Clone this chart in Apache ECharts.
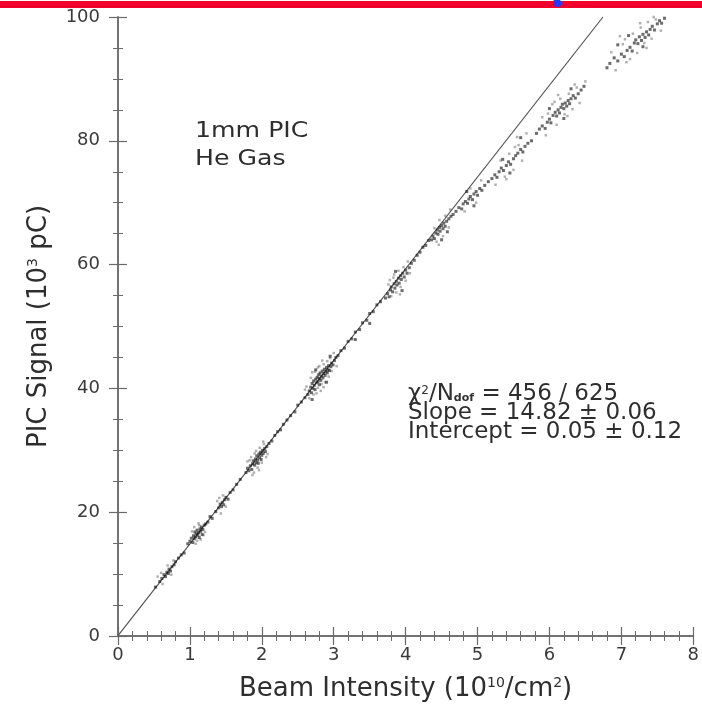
<!DOCTYPE html>
<html>
<head>
<meta charset="utf-8">
<script src="https://cdn.jsdelivr.net/npm/echarts@6/dist/echarts.min.js"></script>
<style>
  html, body { margin: 0; padding: 0; background: #fff; }
  #chart { width: 702px; height: 711px; }
</style>
</head>
<body>
<div id="chart"></div>
<script>
// Axis ranges and tick values
const xTicks = [0, 1, 2, 3, 4, 5, 6, 7, 8];
const yTicks = [0, 20, 40, 60, 80, 100];

// Linear fit result
const fitSlope = 14.82;
const fitIntercept = 0.05;

// Measured PIC signal vs beam intensity, grouped by spill cluster (core of each cluster)
const clusterA = [[0.52,7.9],[0.58,8.8],[0.61,9.3],[0.64,9.9],[0.66,9.6],[0.68,10.3],[0.7,10.1],[0.71,10.8],[0.73,10.5],[0.75,11.2],[0.78,11.5],[0.8,12.0],[0.84,12.6],[0.88,13.1],[0.92,13.4]];
const clusterB = [[0.97,14.9],[1.0,15.3],[1.02,15.8],[1.04,15.1],[1.05,16.2],[1.06,15.7],[1.07,16.8],[1.08,16.0],[1.09,16.5],[1.1,17.1],[1.11,16.3],[1.12,16.7],[1.13,15.9],[1.14,17.3],[1.15,16.9],[1.16,17.6],[1.17,16.4],[1.18,17.2],[1.2,17.9],[1.22,18.1],[1.25,18.4],[1.28,19.3],[1.31,19.0]];
const clusterC = [[1.36,20.1],[1.4,20.7],[1.42,21.3],[1.44,20.9],[1.45,21.6],[1.47,21.2],[1.48,22.0],[1.5,22.4],[1.53,22.1],[1.56,23.2],[1.6,23.6],[1.65,24.5],[1.7,25.3]];
const clusterD = [[1.78,26.4],[1.8,27.1],[1.82,26.7],[1.84,27.5],[1.86,26.9],[1.87,27.8],[1.88,28.3],[1.9,27.6],[1.91,28.6],[1.92,28.0],[1.93,29.1],[1.94,28.4],[1.95,27.9],[1.96,29.4],[1.97,28.8],[1.98,29.7],[1.99,28.5],[2.0,29.2],[2.01,30.0],[2.02,29.5],[2.04,30.3],[2.05,29.8],[2.07,30.6],[2.1,31.1],[2.14,31.5],[2.18,32.4],[2.22,33.0],[2.26,33.3],[2.3,34.2],[2.35,34.9],[2.4,35.6],[2.46,36.2],[2.5,37.3],[2.55,37.8],[2.6,38.5]];
const clusterE = [[2.64,39.0],[2.66,39.6],[2.68,40.2],[2.69,39.3],[2.7,40.8],[2.71,40.0],[2.72,41.2],[2.73,40.5],[2.74,39.8],[2.75,41.5],[2.76,40.9],[2.77,41.8],[2.78,41.1],[2.79,42.2],[2.8,40.6],[2.8,41.6],[2.81,42.5],[2.82,41.3],[2.83,42.0],[2.84,42.8],[2.85,41.7],[2.86,42.4],[2.87,43.1],[2.88,42.1],[2.89,42.7],[2.9,43.4],[2.91,42.5],[2.92,43.0],[2.93,43.7],[2.94,42.9],[2.96,43.5],[2.97,44.1],[2.99,43.8],[3.01,44.5],[3.03,45.0],[3.06,45.3],[2.75,43.0],[2.9,41.0],[2.7,38.2],[2.95,45.2]];
const clusterE2 = [[3.1,46.1],[3.15,46.5],[3.2,47.6],[3.25,48.0],[3.3,49.1],[3.36,49.5],[3.4,50.6],[3.46,51.0],[3.5,52.1],[3.55,52.4],[3.6,53.5],[3.65,54.0],[3.3,47.9],[3.5,50.5]];
const clusterF = [[3.72,54.6],[3.75,55.3],[3.77,54.8],[3.79,55.9],[3.8,56.4],[3.82,55.6],[3.84,56.9],[3.85,56.2],[3.87,57.3],[3.88,56.7],[3.9,57.8],[3.91,57.0],[3.93,58.2],[3.94,57.6],[3.96,58.6],[3.98,58.0],[4.0,59.1],[4.02,58.6],[4.05,59.5],[4.08,60.2],[3.95,55.8],[3.86,58.9],[4.12,60.7],[4.16,61.5],[4.2,62.0],[4.24,62.8],[4.28,63.1],[4.32,63.9]];
const clusterG = [[4.36,64.0],[4.38,64.6],[4.4,64.2],[4.42,65.1],[4.44,65.6],[4.45,64.9],[4.47,66.0],[4.48,65.4],[4.5,66.3],[4.52,65.8],[4.53,66.7],[4.55,66.2],[4.57,67.0],[4.6,67.4],[4.63,67.8],[4.66,68.1],[4.5,64.0],[4.58,65.3],[4.7,68.6],[4.74,69.2],[4.78,69.0],[4.8,69.8],[4.83,70.2],[4.86,69.9],[4.88,70.6],[4.9,71.0],[4.93,70.5],[4.95,71.4],[4.98,71.8],[5.0,71.2],[5.03,72.3],[5.06,72.0],[5.1,72.8],[4.85,71.8],[4.95,69.5]];
const clusterH = [[5.15,73.4],[5.2,73.9],[5.24,74.5],[5.27,74.1],[5.3,75.0],[5.33,75.6],[5.36,75.2],[5.4,76.0],[5.43,76.6],[5.46,76.2],[5.5,77.1],[5.53,77.6],[5.56,78.0],[5.6,78.6],[5.63,78.2],[5.66,79.1],[5.7,79.6],[5.75,80.0],[5.45,74.8],[5.35,77.0],[5.6,80.5]];
const clusterI = [[5.82,81.2],[5.86,81.9],[5.9,82.4],[5.94,82.0],[5.97,83.0],[6.0,83.5],[6.02,82.9],[6.05,84.1],[6.08,84.6],[6.1,84.0],[6.12,85.0],[6.14,84.5],[6.16,85.4],[6.18,85.9],[6.2,85.2],[6.22,86.1],[6.24,85.6],[6.26,86.5],[6.28,86.0],[6.3,86.8],[6.33,87.3],[6.36,86.9],[6.4,87.6],[6.44,88.2],[6.48,88.8],[6.2,83.6],[6.3,88.4],[6.0,85.2]];
const clusterJ = [[6.8,91.8],[6.84,92.5],[6.9,93.4],[6.95,92.9],[7.0,94.0],[7.04,93.6],[7.08,94.6],[7.12,95.1],[7.15,94.5],[7.18,95.8],[7.2,96.3],[7.23,95.7],[7.25,96.8],[7.28,96.2],[7.3,97.2],[7.33,96.7],[7.35,97.6],[7.38,97.1],[7.4,98.0],[7.43,98.5],[7.46,97.9],[7.5,98.9],[7.53,99.4],[7.56,99.0],[7.6,99.8],[7.1,97.0],[6.95,95.5],[7.3,95.2]];

// Outlying readings around each cluster
const spreadLow = [[0.55,9.6],[0.62,8.4],[0.69,11.4],[0.74,9.9],[0.77,12.2],[0.6,10.2],[1.03,16.9],[1.08,14.9],[1.12,18.2],[1.15,15.6],[1.19,16.3],[1.06,17.6],[1.13,17.9],[1.21,16.8],[1.1,15.4],[1.38,21.8],[1.43,19.8],[1.46,22.7],[1.5,20.9],[1.41,22.3]];
const spreadMid = [[1.83,28.4],[1.87,26.0],[1.9,29.5],[1.94,27.2],[1.97,30.4],[2.0,28.0],[2.03,31.0],[2.06,28.9],[1.92,29.9],[1.85,28.9],[2.08,29.4],[1.96,26.8],[1.89,26.4],[2.02,31.4],[1.8,28.2],[2.68,41.7],[2.72,39.0],[2.74,42.7],[2.78,40.1],[2.8,43.6],[2.83,40.7],[2.86,43.9],[2.88,41.0],[2.91,44.4],[2.93,41.9],[2.97,42.8],[3.0,45.7],[2.66,38.4],[2.62,40.3],[2.84,44.5],[2.76,39.2],[2.7,42.6],[2.78,43.4],[2.86,40.2],[2.95,44.9],[2.82,39.6],[3.04,43.6],[2.6,39.8],[3.76,56.8],[3.8,54.9],[3.83,57.9],[3.87,55.5],[3.9,59.0],[3.93,56.4],[3.97,59.6],[4.0,57.4],[3.78,57.5],[4.03,60.5],[3.84,58.4],[3.92,55.2],[4.06,58.6]];
const spreadHigh = [[4.4,65.9],[4.43,63.7],[4.47,67.2],[4.52,64.6],[4.55,67.9],[4.6,66.0],[4.62,68.9],[4.46,63.2],[4.82,68.6],[4.9,72.3],[4.98,70.0],[5.05,73.6],[5.25,72.9],[5.32,76.8],[5.38,74.2],[5.4,73.8],[5.44,77.9],[5.5,75.3],[5.55,80.6],[5.57,79.3],[5.62,76.8],[5.68,81.2],[5.52,79.0],[5.9,83.8],[5.95,80.9],[5.98,84.4],[6.04,85.9],[6.1,82.6],[6.12,87.4],[6.15,86.8],[6.21,84.3],[6.25,84.0],[6.27,87.6],[6.32,85.1],[6.35,89.1],[6.38,88.6],[6.42,86.1],[6.07,86.3],[6.5,89.6],[6.86,94.3],[6.92,91.4],[6.98,96.9],[7.02,95.6],[7.07,92.7],[7.12,93.2],[7.16,97.3],[7.22,94.2],[7.26,99.0],[7.27,98.3],[7.32,95.8],[7.35,95.0],[7.37,99.2],[7.42,96.5],[7.45,100.0],[7.48,99.6],[7.55,97.8],[7.05,96.4]];

const measuredCore = [].concat(clusterA, clusterB, clusterC, clusterD, clusterE, clusterE2, clusterF, clusterG, clusterH, clusterI, clusterJ);
const measuredSpread = [].concat(spreadLow, spreadMid, spreadHigh);

// Fit line endpoints from slope and intercept, clipped at the top of the y range
const yMax = yTicks[yTicks.length - 1];
const fitLine = [[0, fitIntercept], [(yMax - fitIntercept) / fitSlope, yMax]];

const FONT = 'DejaVu Sans';
const frameColor = '#6a6a6a';
const textColor = '#2e2e2e';

const chart = echarts.init(document.getElementById('chart'), null, { renderer: 'canvas' });

const frameLine = { show: true, lineStyle: { color: frameColor, width: 1.5 } };
const majorTick = { show: true, inside: true, length: 9, lineStyle: { color: frameColor, width: 1.2 } };
const minorTickStyle = (n) => ({ show: true, splitNumber: n, length: 5, lineStyle: { color: frameColor, width: 1 } });
const supStyle = { fontSize: 14, fontFamily: FONT, color: textColor, verticalAlign: 'top', padding: [0, 0, 12, 0] };

chart.setOption({
  animation: false,
  backgroundColor: '#ffffff',
  grid: { left: 118, right: 5, top: 17, bottom: 75, containLabel: false },
  xAxis: [
    {
      type: 'value', min: xTicks[0], max: xTicks[xTicks.length - 1], interval: 1,
      position: 'bottom',
      axisLine: frameLine, axisTick: majorTick, minorTick: minorTickStyle(5), splitLine: { show: false },
      axisLabel: { color: '#3a3a3a', fontFamily: FONT, fontSize: 18, margin: 10 },
      name: 'Beam Intensity (10{sup|10}/cm{sup|2})',
      nameLocation: 'middle', nameGap: 40,
      nameTextStyle: { color: textColor, fontFamily: FONT, fontSize: 26, rich: { sup: supStyle } }
    },
    {
      type: 'value', min: xTicks[0], max: xTicks[xTicks.length - 1], interval: 1,
      position: 'top',
      axisLine: frameLine, axisTick: majorTick, minorTick: minorTickStyle(5), splitLine: { show: false },
      axisLabel: { show: false }
    }
  ],
  yAxis: [
    {
      type: 'value', min: yTicks[0], max: yMax, interval: 20,
      position: 'left',
      axisLine: frameLine, axisTick: majorTick, minorTick: minorTickStyle(4), splitLine: { show: false },
      axisLabel: { color: '#3a3a3a', fontFamily: FONT, fontSize: 18, margin: 18 },
      name: 'PIC Signal (10{sup|3} pC)',
      nameLocation: 'middle', nameGap: 66, nameRotate: 90,
      nameTextStyle: { color: textColor, fontFamily: FONT, fontSize: 26, rich: { sup: supStyle } }
    },
    {
      type: 'value', min: yTicks[0], max: yMax, interval: 20,
      position: 'right',
      axisLine: frameLine, axisTick: majorTick, minorTick: minorTickStyle(4), splitLine: { show: false },
      axisLabel: { show: false }
    }
  ],
  series: [
    {
      type: 'line', data: fitLine, xAxisIndex: 0, yAxisIndex: 0,
      showSymbol: false, symbol: 'none', clip: true,
      lineStyle: { color: '#555', width: 1.2 }, z: 2
    },
    {
      type: 'scatter', data: measuredSpread, xAxisIndex: 0, yAxisIndex: 0,
      symbol: 'rect', symbolSize: 2.5,
      itemStyle: { color: 'rgba(40,40,40,0.45)' }, z: 3
    },
    {
      type: 'scatter', data: measuredCore, xAxisIndex: 0, yAxisIndex: 0,
      symbol: 'rect', symbolSize: 3,
      itemStyle: { color: 'rgba(10,10,10,0.75)' }, z: 4
    }
  ],
  graphic: [
    // header strip
    { type: 'rect', left: 0, top: 1, shape: { width: 702, height: 7 }, style: { fill: '#f2002c' }, z: 10 },
    { type: 'circle', shape: { cx: 557, cy: 3, r: 4 }, style: { fill: '#1e3cff' }, z: 11 },
    // detector description
    {
      type: 'text', x: 195, y: 118, scaleX: 1.2, z: 5,
      style: { text: '1mm PIC\nHe Gas', font: '21px "DejaVu Sans"', fill: textColor, lineHeight: 28 }
    },
    // fit statistics
    {
      type: 'text', x: 408, y: 385, z: 5,
      style: {
        text: '{t|χ}{s|2}{t|/N}{d|dof}{t| = 456 / 625}\n{t|Slope = 14.82 ± 0.06}\n{t|Intercept = 0.05 ± 0.12}',
        fill: textColor,
        rich: {
          t: { fontFamily: FONT, fontSize: 23, lineHeight: 19, fill: textColor },
          s: { fontFamily: FONT, fontSize: 12, lineHeight: 19, fill: textColor, verticalAlign: 'top', padding: [0, 0, 10, 0] },
          d: { fontFamily: FONT, fontSize: 11, fontWeight: 'bold', lineHeight: 19, fill: textColor, verticalAlign: 'bottom', padding: [8, 0, 0, 0] }
        }
      }
    }
  ]
});
</script>
</body>
</html>
